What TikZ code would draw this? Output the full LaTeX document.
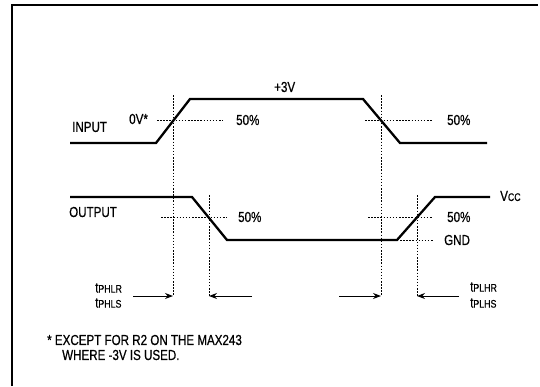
\documentclass[tikz,border=0pt]{standalone}
\usepackage{fontspec}
\setmainfont{Liberation Sans}[FakeStretch=0.8,FakeBold=0.6]
\usetikzlibrary{arrows.meta}
\newcommand\subcap[1]{{\fontsize{11}{13}\selectfont #1}}
\begin{document}
\begin{tikzpicture}[x=1pt,y=-1pt,
  wave/.style={line width=2.3pt, line join=miter},
  guide/.style={line width=0.9pt, dash pattern=on 1.5pt off 1.6pt},
  lbl/.style={inner sep=0pt, anchor=west, font=\fontsize{14.5}{16}\selectfont},
  tarrow/.style={line width=1pt, -{Stealth[length=8pt,width=6pt]}}]
\useasboundingbox (0,0) rectangle (540,386);
% frame
\draw[line width=1.5pt] (12,386) -- (12,5) -- (538,5);
% waveforms
\draw[wave] (70,143) -- (156,143) -- (190,99) -- (363,99) -- (400,143) -- (487,143);
\draw[wave] (70,197) -- (192,197) -- (227,240) -- (397,240) -- (435,197) -- (490,197);
% vertical guides
\coordinate (v1t) at (173,95);  \coordinate (v1b) at (173,296);
\coordinate (v2t) at (209,195); \coordinate (v2b) at (209,296);
\coordinate (v3t) at (381,95);  \coordinate (v3b) at (381,296);
\coordinate (v4t) at (417,195); \coordinate (v4b) at (417,296);
\draw[guide] (v1t) -- (v1b);
\draw[guide] (v2t) -- (v2b);
\draw[guide] (v3t) -- (v3b);
\draw[guide] (v4t) -- (v4b);
% horizontal guides
\draw[guide] (157,120) -- (223,120);
\draw[guide] (365,120) -- (432,120);
\draw[guide] (161,217) -- (227,217);
\draw[guide] (368,217) -- (433,217);
\draw[guide] (400,240) -- (433,240);
% labels
\node[lbl] (inlbl) at (72,127) {INPUT};
\node[lbl] (zero) at (129,119) {0V*};
\node[lbl] (plus) at (274,87) {+3V};
\node[lbl] (p1) at (236,120) {50\%};
\node[lbl] (p2) at (447,120) {50\%};
\node[lbl] (outlbl) at (69,212) {OUTPUT};
\node[lbl] (p3) at (238,217) {50\%};
\node[lbl] (p4) at (447,217) {50\%};
\node[lbl] (gnd) at (444,240) {GND};
\node[lbl] (vcc) at (500,196) {V\subcap{CC}};
% timing labels
\node[lbl] (tphlr) at (95,288) {t\subcap{PHLR}};
\node[lbl] (tphls) at (95,303) {t\subcap{PHLS}};
\node[lbl] (tplhr) at (470,287) {t\subcap{PLHR}};
\node[lbl] (tplhs) at (470,303) {t\subcap{PLHS}};
% arrows
\coordinate (a1) at (133,296);
\coordinate (a2) at (252,296);
\coordinate (a3) at (339,296);
\coordinate (a4) at (459,296);
\draw[tarrow] (a1) -- (v1b);
\draw[tarrow] (a2) -- (v2b);
\draw[tarrow] (a3) -- (v3b);
\draw[tarrow] (a4) -- (v4b);
% footnote
\node[lbl] (fn1) at (47,340) {* EXCEPT FOR R2 ON THE MAX243};
\node[lbl] (fn2) at (62,355) {WHERE -3V IS USED.};
\end{tikzpicture}
\end{document}
